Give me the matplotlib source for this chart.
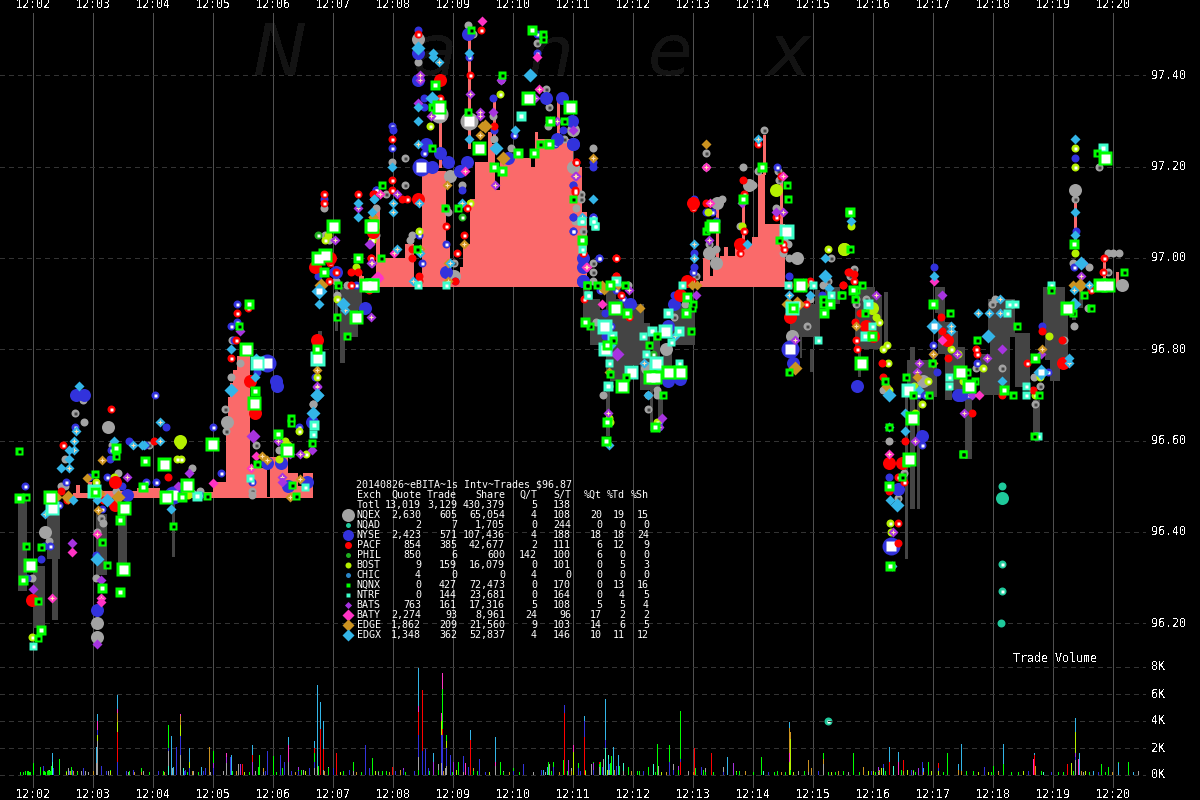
#! /usr/bin/env python
# Nanex style tick chart, 12:02 - 12:20
import numpy as np
import matplotlib
matplotlib.use("Agg")
import matplotlib.pyplot as plt

plt.rcParams['font.family'] = ['DejaVu Sans Mono']
plt.rcParams['text.antialiased'] = False

# axis labels
minute_labels = ["12:02","12:03","12:04","12:05","12:06","12:07","12:08","12:09","12:10",
                 "12:11","12:12","12:13","12:14","12:15","12:16","12:17","12:18","12:19","12:20"]
minute_secs = [0,60,120,180,240,300,360,420,480,540,600,660,720,780,840,900,960,1020,1080]
price_ticks = [97.40,97.20,97.00,96.80,96.60,96.40,96.20]
vol_ticks = [8,6,4,2,0]

# table
table_title = "20140826~eBITA~1s Intv~Trades $96.87"
table_head = ["Exch","Quote","Trade","Share","Q/T","S/T","%Qt","%Td","%Sh"]
table_rows = [
    ["Totl","13,019","3,129","430,379","5","138","","",""],
    ["NQEX","2,630","605","65,054","4","108","20","19","15"],
    ["NQAD","2","7","1,705","0","244","0","0","0"],
    ["NYSE","2,423","571","107,436","4","188","18","18","24"],
    ["PACF","854","385","42,677","2","111","6","12","9"],
    ["PHIL","850","6","600","142","100","6","0","0"],
    ["BOST","9","159","16,079","0","101","0","5","3"],
    ["CHIC","4","0","0","4","0","0","0","0"],
    ["NQNX","0","427","72,473","0","170","0","13","16"],
    ["NTRF","0","144","23,681","0","164","0","4","5"],
    ["BATS","763","161","17,316","5","108","5","5","4"],
    ["BATY","2,274","93","8,961","24","96","17","2","2"],
    ["EDGE","1,862","209","21,560","9","103","14","6","5"],
    ["EDGX","1,348","362","52,837","4","146","10","11","12"],
]

# shaded spread above the reference level (step series)
pink1_base = 96.474
pink1_t = [40,43,47,55,59,104,127,180,193,195,197,200,204,217,234,237,255,265,270,280]
pink1_p = [96.485,96.503,96.485,96.51,96.49,96.496,96.487,96.51,96.62,96.695,96.726,96.755,96.785,
           96.54,96.476,96.565,96.53,96.50,96.53,96.53]
pink2_base = 96.936
pink2_t = [328,331,343,347,359,372,381,389,413,417,427,430,437,442,455,459,462,467,498,502,505,540,549,554]
pink2_p = [96.96,96.95,97.11,97.0,97.0,97.03,96.94,97.19,97.03,96.96,96.98,97.03,97.13,97.21,97.277,
           97.25,97.15,97.22,97.20,97.277,97.26,97.20,97.10,97.10]
pink3_base = 96.936
pink3_t = [667,670,677,680,687,691,695,702,712,719,725,732,752]
pink3_p = [96.95,97.0,96.96,96.98,97.005,97.025,97.005,97.025,97.03,97.045,97.185,97.075,97.075]

# thin spikes of the same spread
spike_t = [436,407,461,525,684,710,731,748,1042,1071,1084,345,327]
spike_hi = [97.48,97.30,97.35,97.35,97.11,97.12,97.27,97.18,97.13,97.0,96.97,97.105,96.97]
spike_lo = [97.24,97.20,97.27,97.26,96.99,97.03,97.185,97.06,97.03,96.95,96.94,96.94,96.94]

# dark bars below the reference level
gray_t0 = [-15,0,14,19,25,63,85,139,307,312,325,285,302,550,557,567,573,573,583,577,607,617,620,625,630,639,
           757,777,782,792,767,822,825,840,851,874,872,877,884,902,905,912,917,925,932,947,955,957,982,1000,
           1010,1012,1017,1039,1046]
gray_t1 = [-6,12,19,25,27,74,94,142,312,325,329,289,305,557,567,573,577,583,611,592,617,620,627,630,639,662,
           787,780,787,807,769,842,828,849,855,904,875,882,887,907,912,919,925,932,939,967,982,977,997,1007,
           1032,1035,1027,1043,1050]
gray_hi = [96.474,96.325,96.45,96.45,96.45,96.44,96.44,96.474,96.936,96.936,96.936,96.84,96.93,96.936,96.91,96.886,
           96.71,96.93,96.90,96.91,96.858,96.777,96.84,96.695,96.80,96.90,96.90,96.80,96.93,96.936,96.90,96.936,
           96.80,96.92,96.926,96.777,96.695,96.805,96.69,96.936,96.936,96.86,96.84,96.805,96.73,96.79,96.91,
           96.827,96.835,96.69,96.936,96.90,96.777,96.91,96.93]
gray_lo = [96.27,96.19,96.34,96.207,96.34,96.306,96.31,96.345,96.77,96.827,96.886,96.81,96.84,96.864,96.81,96.79,
           96.61,96.755,96.766,96.73,96.71,96.62,96.71,96.65,96.744,96.81,96.827,96.75,96.82,96.90,96.78,96.80,
           96.74,96.80,96.80,96.695,96.34,96.45,96.45,96.88,96.79,96.69,96.71,96.69,96.56,96.70,96.827,
           96.71,96.717,96.61,96.835,96.777,96.73,96.864,96.89]

# watermark
mark_letters = ["N","a","n","e","x"]
mark_secs = [220,380,495,615,735]

# quote points per exchange: seconds after 12:02, price, size class
nqex_t = [42,51,75,32,50,85,28,64,83,32,12,16,-1,63,68,70,64,64,64,159,167,159,192,194,193,223,246,280,219,219,79,116,
          199,207,198,291,296,292,343,342,304,314,280,303,
          385,385,406,436,440,435,504,513,516,531,540,540,461,460,379,377,372,372,359,343,342,353,417,413,415,429,421,421,468,478,560,540,548,548,543,542,550,560,560,560,515,
          673,710,673,684,689,720,716,725,731,745,746,743,751,755,750,756,764,676,683,683,676,663,652,641,633,615,615,624,624,614,626,572,570,595,563,774,759,777,790,795,798,710,707,
          1042,1042,1066,1056,1075,1080,1086,1075,1089,1040,1055,1041,1031,1007,1002,1001,969,943,962,959,833,856,890,817,821,823,823,850,871,865]
nqex_p = [96.66,96.64,96.63,96.56,96.69,96.53,96.50,96.49,96.49,96.50,96.40,96.38,96.30,96.30,96.43,96.42,96.40,96.20,96.17,96.54,96.49,96.485,96.67,96.64,96.62,96.59,96.58,96.68,96.49,96.48,96.59,96.59,
          96.82,96.77,96.74,97.11,97.04,97.05,97.05,97.05,96.92,96.94,96.68,96.95,
          97.48,97.43,97.315,97.30,97.49,97.51,97.47,97.37,97.33,97.26,97.28,97.25,97.26,97.31,97.05,97.04,97.22,97.16,97.21,97.11,97.05,97.14,97.18,97.11,97.10,97.16,96.99,96.96,97.39,97.24,97.24,97.20,97.14,97.13,97.11,97.08,97.06,96.99,96.97,96.95,97.29,
          97.23,97.20,97.20,97.12,97.13,97.16,97.16,97.19,97.28,97.19,97.17,97.11,97.04,97.03,97.01,97.0,97.0,97.03,97.02,96.99,97.01,96.96,96.90,96.87,96.80,96.70,96.67,96.71,96.70,96.76,96.76,96.80,96.70,96.94,96.86,96.85,96.83,96.91,96.94,96.95,97.0,97.13,97.07,
          97.15,97.13,97.20,96.98,97.01,97.01,97.01,96.97,96.94,96.99,96.89,96.85,96.82,96.72,96.68,96.74,96.76,96.76,96.91,96.90,96.91,96.60,96.73,96.96,96.975,96.91,96.90,96.71,96.53,96.475]
nqex_k = [1,2,3,2,2,2,2,2,2,2,3,2,2,2,1,2,2,3,3,2,2,2,1,3,1,1,2,1,1,2,2,1,
          2,2,2,2,2,1,2,2,2,2,2,2,
          3,2,4,4,1,2,1,1,1,1,3,1,2,2,2,2,1,1,2,2,2,1,3,1,2,2,1,3,1,2,2,3,1,1,2,2,1,1,1,2,2,
          1,2,1,3,2,2,3,1,1,1,1,2,2,2,2,2,3,1,2,3,3,1,2,1,3,1,1,2,2,3,2,3,2,2,2,1,3,2,2,1,1,2,2,
          3,1,1,2,2,2,2,1,3,2,2,2,1,1,1,2,1,1,2,1,1,2,3,1,1,2,1,2,1,1]

nyse_t = [51,43,122,42,33,-8,77,78,96,133,112,56,74,113,123,89,26,17,11,8,63,-6,64,69,94,140,180,188,248,234,244,266,219,167,255,274,279,147,
          204,198,204,201,243,234,224,
          291,343,299,303,332,284,323,285,282,
          385,385,385,391,391,359,360,359,391,393,399,407,388,415,434,427,435,436,460,461,481,475,477,504,504,513,515,529,539,540,522,524,530,540,540,540,550,566,550,560,386,389,413,413,422,343,429,567,
          560,560,540,540,540,540,550,566,550,560,568,583,590,597,572,578,572,635,641,633,641,635,647,661,661,661,660,673,679,683,744,756,757,760,626,626,789,
          901,1042,1043,1041,824,900,900,904,889,889,1009,1015,925,928,935,944,885,892,865,858,856,856]
nyse_p = [96.70,96.70,96.70,96.63,96.51,96.50,96.56,96.58,96.60,96.63,96.59,96.52,96.52,96.51,96.51,96.50,96.46,96.37,96.37,96.34,96.35,96.30,96.23,96.45,96.48,96.48,96.63,96.53,96.55,96.55,96.72,96.63,96.51,96.48,96.50,96.51,96.64,96.50,
          96.90,96.85,96.86,96.82,96.73,96.77,96.75,
          97.13,97.15,96.97,96.97,96.89,96.80,96.94,96.96,96.74,
          97.50,97.45,97.39,97.35,97.33,97.29,97.28,97.24,97.23,97.25,97.20,97.23,97.20,97.21,97.21,97.19,97.49,97.44,97.35,97.28,97.27,97.22,97.22,97.49,97.45,97.35,97.35,97.35,97.30,97.25,97.25,97.26,97.28,97.06,97.09,97.16,96.98,97.0,96.95,97.09,97.05,96.99,97.03,96.97,96.95,97.15,97.15,96.93,
          97.21,97.20,97.25,97.09,97.06,97.16,97.0,97.0,96.95,97.09,96.93,96.93,96.91,96.90,96.88,96.85,96.83,96.85,96.90,96.84,96.92,96.73,96.735,97.13,97.01,96.98,96.97,97.10,97.10,97.08,97.2,96.96,96.80,96.77,96.64,96.63,96.92,
          96.98,97.22,97.06,96.98,96.72,96.81,96.79,96.75,96.61,96.59,96.85,96.75,96.70,96.70,96.70,96.77,96.70,96.70,96.495,96.37,96.375,96.52]
nyse_k = [3,3,1,1,1,1,2,1,2,2,2,2,1,1,1,2,1,1,2,2,2,2,3,1,3,4,1,1,3,3,3,1,1,1,3,3,3,2,
          1,1,1,2,3,4,2,
          2,1,1,3,3,1,1,2,2,
          2,3,3,2,2,1,2,1,1,3,3,3,4,3,3,3,3,1,2,2,1,3,1,1,1,3,1,3,3,3,1,3,2,1,1,2,3,1,3,1,1,1,1,3,2,1,2,1,
          2,2,3,2,1,2,3,1,3,1,1,1,1,3,2,1,2,3,3,1,2,3,3,2,2,2,1,2,1,2,1,2,4,3,1,2,2,
          2,2,2,1,3,1,1,2,3,1,2,1,3,3,1,1,1,1,3,4,2,2]

pacf_t = [78,30,121,135,34,70,82,82,-1,28,217,222,204,215,203,198,216,
          291,291,325,341,297,297,303,296,318,318,325,284,338,339,340,282,
          385,407,407,448,437,359,359,359,340,374,369,385,340,338,379,379,386,386,413,431,424,434,461,543,542,550,583,583,422,336,
          543,542,550,583,583,551,588,596,660,660,654,659,673,725,710,711,711,707,707,743,750,751,748,756,777,773,757,810,815,647,
          810,816,821,821,1071,1070,1058,908,833,840,822,823,827,824,849,850,909,914,915,943,944,939,872,1009,994,1030,1000,969,1029,
          856,869,865,871,865,865,859,856]
pacf_p = [96.67,96.59,96.60,96.52,96.47,96.47,96.51,96.46,96.25,96.49,96.73,96.66,96.88,96.89,96.82,96.78,96.73,
          97.14,97.12,97.14,97.14,97.0,96.99,96.97,96.95,96.97,96.94,96.97,96.82,97.0,97.065,97.058,96.98,
          97.49,97.39,97.35,97.50,97.40,97.26,97.17,97.15,97.14,97.13,97.13,97.13,97.06,97.0,97.02,97.0,96.96,96.95,97.07,97.05,97.01,97.11,97.29,97.21,97.15,97.01,97.0,96.96,96.95,96.93,
          97.21,97.145,97.01,97.0,96.96,96.91,96.92,96.87,97.12,97.11,96.95,96.95,97.12,97.25,97.17,97.14,97.06,97.03,97.01,97.09,97.03,97.02,97.18,96.94,96.95,96.90,96.87,96.94,96.97,96.92,
          96.94,96.97,96.965,96.95,97.0,96.97,96.93,96.87,96.85,96.83,96.86,96.82,96.88,96.80,96.77,96.74,96.84,96.82,96.78,96.80,96.79,96.66,96.60,96.84,96.77,96.77,96.71,96.70,96.82,
          96.55,96.55,96.52,96.51,96.42,96.375,96.325,96.49]
pacf_k = [1,1,2,2,1,2,3,3,3,2,3,3,1,1,1,1,2,
          1,1,1,2,3,1,1,1,2,1,2,3,1,3,3,3,
          1,3,1,1,1,1,1,1,2,1,2,3,3,1,2,2,2,1,1,1,1,1,2,1,1,1,1,1,2,1,
          1,1,1,1,2,1,1,1,3,1,3,1,2,1,2,1,1,3,1,1,1,1,2,1,1,1,3,2,2,3,
          2,2,2,1,1,1,1,2,3,3,2,1,2,1,2,2,2,3,2,1,1,2,2,2,1,3,2,2,2,
          3,3,1,1,1,2,2,2]

bost_t = [147,147,63,81,148,144,266,252,273,255,-1,155,246,295,292,323,339,304,284,467,437,397,339,386,
          743,709,795,811,576,576,577,675,624,1042,1042,1042,818,811,839,843,846,854,850,855,856,895,881,882,889,918,925,950,1016,930,1007,1002,857,858]
bost_p = [96.60,96.59,96.51,96.52,96.56,96.56,96.62,96.60,96.57,96.59,96.17,96.48,96.56,97.05,97.04,96.98,97.04,96.91,96.74,97.36,97.12,97.29,97.04,97.06,
          97.15,97.07,97.02,97.02,96.72,96.65,96.64,97.10,96.64,97.24,97.20,97.01,97.07,97.02,96.89,96.87,96.86,96.81,96.80,96.77,96.71,96.73,96.72,96.66,96.68,96.80,96.79,96.76,96.83,96.73,96.74,96.70,96.42,96.40]
bost_k = [3,2,1,2,1,1,1,2,1,2,1,2,2,2,1,2,1,1,1,1,1,1,1,1,
          3,2,1,3,2,2,1,2,1,1,1,2,2,3,3,2,1,1,1,1,1,1,2,1,1,1,1,1,2,1,1,1,1,1]

bats_t = [94,156,220,245,257,267,249,249,39,0,68,64,284,279,145,207,325,302,338,337,338,284,
          364,387,387,385,398,437,447,447,468,462,460,502,524,542,540,336,339,
          543,676,750,709,663,596,584,629,626,575,762,743,843,1048,1050,909,969,954,924,886,884,1008,931,882,939,860]
bats_p = [96.52,96.53,96.61,96.60,96.57,96.57,96.52,96.51,96.375,96.275,96.295,96.154,96.717,96.58,96.50,96.84,97.11,97.04,96.99,97.03,96.87,96.72,
          97.14,97.40,97.39,97.34,97.31,97.36,97.32,97.31,97.39,97.16,97.32,97.35,97.30,97.18,97.28,97.03,96.99,
          97.18,97.04,97.10,97.12,96.92,96.93,96.79,96.65,96.63,96.66,96.82,97.10,96.92,96.96,96.99,96.92,96.80,96.78,96.79,96.77,96.75,96.79,96.66,96.60,96.70,96.40]
bats_k = [1,2,3,1,1,1,1,2,2,2,2,2,1,2,2,2,1,1,1,2,1,1,
          1,1,1,2,1,1,1,1,2,1,2,1,1,1,2,1,1,
          1,1,1,2,2,1,3,2,1,1,1,2,1,1,1,2,2,1,1,1,1,2,1,1,2,1]

baty_t = [39,19,64,68,68,180,218,223,344,449,504,506,517,554,432,361,345,347,553,750,673,677,569,909,946,856,901]
baty_p = [96.355,96.255,96.395,96.255,96.246,96.507,96.54,96.566,96.957,97.52,97.44,97.37,97.30,96.98,97.19,97.01,96.96,97.14,96.98,97.18,97.20,97.12,96.90,96.82,96.70,96.57,96.95]
baty_k = [2,1,1,1,2,2,1,2,3,2,2,1,1,1,1,1,1,1,1,1,1,1,2,2,2,1,2]

edge_t = [69,35,24,54,85,67,65,234,229,267,257,288,340,284,452,449,447,414,431,387,340,470,415,415,
          673,560,569,585,607,659,664,762,764,755,770,571,576,823,900,900,1047,1009,1040,853,884]
edge_p = [96.558,96.477,96.477,96.518,96.477,96.485,96.448,96.558,96.566,96.516,96.477,96.94,97.09,96.755,97.29,97.29,97.27,97.16,97.03,97.02,97.09,97.22,96.99,96.95,
          97.25,97.22,96.94,96.94,96.89,96.94,96.94,96.76,96.90,96.90,96.94,96.93,96.75,96.85,96.77,96.79,96.94,96.80,96.94,96.72,96.74]
edge_k = [1,3,2,2,3,2,1,1,1,1,1,3,2,1,3,2,1,1,1,1,2,3,2,1,
          2,1,2,2,2,2,2,3,4,3,3,2,1,1,1,1,3,1,2,2,2]

edgx_t = [46,43,41,41,36,36,28,36,81,100,111,109,127,127,12,64,74,64,138,198,280,284,40,198,222,223,
          325,325,341,286,310,312,284,284,286,339,
          385,400,400,406,399,385,385,385,359,341,360,360,386,364,387,380,436,436,429,463,482,497,417,560,549,
          661,661,725,714,792,792,796,756,777,642,611,615,578,576,
          1042,1042,1042,1048,1041,1041,1056,818,901,901,918,918,856,872,872,856,945,956,967,967,955,969,1008,1036,1036,886,864,857,859]
edgx_p = [96.72,96.62,96.60,96.58,96.58,96.56,96.54,96.54,96.60,96.59,96.59,96.59,96.64,96.60,96.44,96.34,96.47,96.47,96.45,96.71,96.66,96.70,96.47,96.80,96.74,96.78,
          97.12,97.09,97.13,96.90,96.90,96.887,96.78,96.70,96.927,97.10,
          97.46,97.45,97.44,97.43,97.35,97.33,97.30,97.25,97.20,97.13,97.12,97.10,97.12,97.02,97.01,96.95,97.45,97.26,97.12,97.24,97.28,97.40,96.99,97.13,97.09,
          97.03,97.0,97.26,97.03,97.0,96.96,96.935,96.92,96.92,96.83,96.77,96.70,96.81,96.59,
          97.26,97.10,97.05,96.99,96.90,96.93,96.94,97.08,96.96,96.85,96.85,96.84,96.63,96.66,96.62,96.70,96.88,96.88,96.88,96.91,96.83,96.73,96.75,96.78,96.77,96.71,96.46,96.47,96.325]
edgx_k = [2,1,1,1,2,2,2,1,2,1,2,2,1,1,1,3,3,2,2,3,3,3,2,2,2,2,
          2,2,1,2,3,1,1,3,4,2,
          3,2,2,1,3,2,2,1,2,2,1,1,1,1,1,1,2,2,1,3,2,3,1,2,1,
          1,1,1,2,2,3,2,1,2,1,1,2,2,1,
          2,2,2,3,3,1,1,2,2,4,1,1,2,2,2,3,1,1,1,1,3,2,4,2,1,2,3,2,2]

nqnx_t = [-14,62,83,83,112,131,179,221,222,245,258,258,279,254,224,174,149,154,91,87,69,-7,8,74,-3,-10,5,8,5,87,90,69,140,-7,-14,259,263,17,133,110,62,
          216,206,213,300,292,285,325,291,305,333,339,304,314,323,339,284,
          499,510,510,438,469,402,495,406,399,435,446,485,501,516,537,517,531,399,461,469,349,338,348,333,339,384,412,549,554,425,507,
          729,754,755,710,816,680,673,676,746,550,540,554,564,577,592,582,594,552,557,580,574,616,624,622,617,635,647,653,660,659,654,658,630,589,593,577,574,573,622,767,790,790,797,791,808,756,760,
          817,817,829,809,820,823,822,832,1072,1064,900,917,839,828,852,944,984,1034,1040,1058,1051,1018,1002,971,980,1006,934,942,936,896,873,880,879,930,927,1041,1075,1067,1091,856,1001,899,
          876,856,869,873,857,930]
nqnx_p = [96.577,96.526,96.583,96.566,96.555,96.548,96.592,96.682,96.708,96.614,96.649,96.638,96.594,96.58,96.548,96.479,96.477,96.503,96.452,96.426,96.377,96.369,96.368,96.328,96.328,96.295,96.248,96.185,96.167,96.268,96.319,96.277,96.413,96.477,96.474,96.502,96.478,96.477,96.477,96.498,96.488,
          96.90,96.85,96.80,97.07,97.006,97.0,97.0,96.97,96.94,96.94,96.94,96.87,96.83,96.87,97.07,96.80,
          97.50,97.49,97.48,97.50,97.40,97.38,97.35,97.33,97.33,97.32,97.24,97.23,97.23,97.25,97.33,97.30,97.30,97.24,97.20,97.19,97.16,97.07,97.0,96.94,96.94,97.02,97.11,97.04,96.94,97.11,97.25,
          97.20,97.16,97.13,97.13,97.10,97.07,97.06,97.07,97.04,97.04,97.13,96.94,96.94,96.94,96.94,96.89,96.88,96.86,96.85,96.82,96.81,96.81,96.83,96.74,96.74,96.75,96.75,96.88,96.90,96.89,96.915,96.84,96.70,96.72,96.74,96.745,96.64,96.60,96.63,96.94,96.91,96.90,96.90,96.88,96.92,96.75,96.89,
          97.10,97.02,96.94,96.92,96.93,96.93,96.91,96.88,97.22,97.23,96.90,96.88,96.83,96.77,96.73,96.82,96.85,96.89,96.88,96.89,96.92,96.93,96.78,96.71,96.70,96.70,96.75,96.73,96.72,96.70,96.74,96.70,96.65,96.57,96.75,97.03,96.94,96.94,96.97,96.63,96.61,96.77,
          96.56,96.50,96.52,96.55,96.325,96.57]
nqnx_k = [1,1,2,1,2,3,3,3,2,2,1,1,1,3,1,1,2,3,3,2,1,1,1,1,3,2,1,2,1,2,3,2,1,1,2,1,1,3,3,2,2,
          2,1,3,3,3,3,2,2,1,2,3,1,1,3,3,2,
          2,1,1,1,1,2,3,3,1,1,3,2,2,2,3,2,1,1,2,2,1,3,1,3,2,1,1,2,1,1,1,
          2,1,1,2,1,3,1,2,1,1,1,1,1,2,1,3,2,2,1,1,2,1,1,3,3,3,3,2,1,1,2,1,1,3,1,1,2,2,2,3,1,1,2,2,1,1,2,
          2,1,1,1,2,1,1,1,3,1,2,1,2,3,1,1,1,3,1,1,1,1,2,2,1,1,1,1,3,1,1,1,3,1,3,2,3,3,1,1,1,1,
          3,2,1,1,2,1]

ntrf_t = [19,0,280,281,61,164,217,272,224,284,488,549,548,560,562,385,413,555,583,339,
          549,560,562,555,576,571,579,572,575,598,613,610,619,632,635,646,646,638,623,755,753,780,798,785,759,649,
          1070,1018,982,976,974,835,832,839,875,916,916,993,993,1005]
ntrf_p = [96.452,96.15,96.614,96.634,96.49,96.478,96.518,96.498,96.77,96.78,97.31,97.02,97.08,97.08,97.07,96.94,96.94,96.92,96.95,96.94,
          97.08,97.08,97.07,96.92,96.77,96.85,96.83,96.80,96.72,96.75,96.79,96.83,96.84,96.84,96.88,96.84,96.77,96.815,96.77,96.94,97.06,96.94,96.92,96.82,96.89,96.94,
          97.24,96.94,96.90,96.90,96.88,96.90,96.83,96.85,96.71,96.74,96.72,96.72,96.70,96.61]
ntrf_k = [3,1,1,2,3,2,1,1,3,4,2,1,1,1,1,1,1,1,2,3,
          1,1,1,1,1,4,2,3,2,3,1,1,2,3,2,2,1,1,3,1,4,1,1,1,3,1,
          2,1,1,1,1,2,2,1,3,1,1,1,1,1]

nqad_t = [969,969,969,969,968,795]
nqad_p = [96.50,96.475,96.33,96.27,96.20,95.986]
nqad_k = [2,3,1,1,2,1]

phil_t = [429,402,285,620]
phil_p = [97.09,97.38,97.05,96.79]
phil_k = [1,1,1,1]

chic_t = []
chic_p = []
chic_k = []

# trade volume, top of each coloured segment in thousands
nqex_vt = [64,63,135,147,193,255,281,284,290,385,408,413,16,35,48,52,55,75,95,110,139,160,177,190,205,222,230,270,295,320,345,405,412,430,462,470,500,512,516,538,
           558,566,570,576,590,625,640,655,672,690,765,775,790,815,845,880,965,1010,1042,1050,1100,1105]
nqex_vk = [2.5,0.9,1.8,1.5,0.9,1.0,0.5,0.6,0.4,1.3,0.9,0.7,0.4,0.5,0.3,0.3,0.2,0.3,0.2,0.3,0.5,0.3,0.2,0.3,0.8,0.3,0.2,0.4,0.6,0.3,0.2,0.8,0.5,0.2,0.7,0.3,0.2,0.2,0.8,0.5,
           0.8,0.6,1.2,0.4,0.3,0.7,0.8,0.3,0.5,0.6,0.3,0.2,0.8,0.2,0.2,0.2,0.3,0.2,1.1,0.2,0.2,0.3]
nyse_vt = [84,64,135,147,143,156,180,219,234,247,251,281,332,385,389,392,400,408,409,413,417,430,446,490,531,551,572,576,636,647,668,
           10,50,68,100,125,152,172,197,205,265,300,370,395,420,435,508,520,547,560,850,889,905,1042]
nyse_vk = [1.0,3.3,2.0,2.9,2.1,0.5,0.5,1.0,1.75,1.5,1.0,1.0,2.2,3.0,1.8,1.9,1.0,3.0,3.0,2.0,1.5,1.4,1.2,0.8,5.2,4.0,2.6,0.8,1.0,1.2,0.6,
           0.7,0.5,0.7,0.4,0.3,0.4,0.5,1.3,0.8,0.3,0.5,0.4,0.5,1.0,0.6,0.4,0.6,0.3,0.4,0.8,1.0,0.5,1.3]
pacf_vt = [84,219,281,287,290,303,359,385,389,409,437,209,531,551,566,647,661,678,856,870,905,1001,1034]
pacf_vk = [3.2,1.5,2.0,3.4,1.9,1.6,0.6,4.7,6.3,3.4,2.6,0.8,4.6,2.8,1.0,1.0,2.0,1.6,1.0,1.1,0.9,1.5,0.8]
bost_vt = [84,147,156,64,408,413,540,1042,1038,756,757,840,880,905,955]
bost_vk = [3.9,3.7,1.0,3.0,4.0,2.5,1.7,3.2,0.9,1.0,2.7,0.3,0.3,0.3,0.2]
bats_vt = [180,193,207,219,265,370,400,420,535,560,645,700,845,885,1042]
bats_vk = [0.9,1.3,0.8,1.0,0.6,0.5,1.0,1.0,1.1,0.9,0.7,0.9,0.6,0.5,1.6]
baty_vt = [64,84,147,255,385,409,193,408,432,462,540,756,865,1000,1045]
baty_vk = [4.0,4.9,4.5,2.25,5.1,7.55,1.6,4.6,0.9,1.0,2.2,1.6,1.0,1.2,1.2]
edge_vt = [37,40,60,84,93,108,147,176,230,281,367,440,756,757,775,790,830,870,925,1002]
edge_vk = [0.3,0.3,0.3,4.6,0.3,0.2,4.4,2.1,0.5,1.6,0.4,0.5,3.5,3.2,1.1,1.2,0.6,0.3,0.4,0.7]
edgx_vt = [19,64,63,84,138,140,156,168,198,219,255,281,284,287,290,385,400,437,462,510,514,551,572,575,580,585,624,636,694,756,856,865,
           890,925,928,970,1001,1042,1046,1060,1085,1100]
edgx_vk = [1.6,4.5,2.1,5.95,2.9,0.6,2.0,0.6,1.5,2.2,2.8,2.55,6.7,5.4,4.0,7.9,1.6,3.35,2.8,0.4,0.6,4.35,5.6,1.2,2.1,1.5,2.3,2.25,1.3,3.95,2.1,1.7,
           0.5,0.8,2.3,2.3,1.6,4.2,1.6,0.3,0.9,0.2]
nqnx_vt = [7,10,12,14,15,16,17,18,26,38,108,135,180,226,225,240,249,265,281,285,320,339,345,353,
           385,405,409,413,425,440,467,470,480,500,515,520,530,545,560,567,575,578,
           604,615,624,636,647,662,670,680,706,728,744,752,757,790,802,820,845,880,895,914,940,960,970,985,1025,1040,1068,1075,1085,1095]
nqnx_vk = [0.2,0.3,0.2,0.3,0.4,0.3,0.3,0.7,1.2,0.6,0.5,3.7,1.75,1.5,0.6,1.4,0.5,0.4,1.6,0.7,1.0,1.25,0.3,0.3,
           0.4,0.4,6.4,3.0,1.0,0.3,1.0,0.2,0.5,0.2,1.0,1.0,1.1,0.9,1.0,1.0,1.2,1.4,
           0.3,0.6,2.3,2.25,4.75,0.5,0.4,0.2,0.3,1.3,0.3,0.2,0.4,1.6,0.2,1.6,0.3,0.4,1.0,1.6,0.3,0.7,0.8,0.2,0.2,0.3,0.8,0.6,1.0,1.0]
ntrf_vt = [19,135,150,572,575,590,620,730,850,860,1010]
ntrf_vk = [1.0,0.7,0.5,2.0,1.5,0.9,0.8,0.3,0.5,0.7,0.2]

# the dense low bars along the bottom of the volume panel
low_green_t = [-13,-10,-8,-6,-5,-4,-3,0,7,11,33,44,77,96,116,130,154,165,199,216,243,268,295,310,328,349,372,396,419,444,470,486,518,534,552,566,577,586,595,606,622,645,672,703,720,741,771,795,810,826,842,852,868,882,910,933,958,978,1008,1030,1056,1072]
low_green_k = [.2,.2,.3,.3,.3,.2,.2,.9,.6,.3,.3,.2,.4,.3,.2,.3,.2,.2,.3,.2,.2,.4,.5,.3,.2,.3,.2,.3,.2,.3,.2,.2,.3,.3,.4,.8,.9,.7,.6,.3,.2,.4,.2,.2,.2,.2,.3,.2,.3,.2,.2,.3,.4,.2,.2,.3,.2,.2,.3,.2,.2,.2]
low_blue_t = [20,36,39,73,93,151,170,232,258,276,316,336,362,381,452,480,545,569,583,610,640,690,735,785,838,878,951,995,1018,1065]
low_blue_k = [.5,.3,.4,.3,.3,.3,.3,.3,.3,.5,.4,.5,.3,.3,.2,.3,.5,.6,.7,.3,.4,.2,.2,.3,.3,.4,.6,.3,.2,.2]
low_edge_t = [44,101,131,159,203,262,291,323,356,410,476,526,538,581,598,633,660,712,748,778,805,846,890,928,965,1048,1079]
low_edge_k = [.3,.2,.2,.3,.3,.2,.3,.2,.2,.3,.2,.2,.3,.4,.3,.2,.2,.3,.2,.5,.3,.4,.2,.3,.2,.3,.2]
low_bost_t = [33,77,154,211,272,307,342,423,456,552,574,628,672,703,760,798,835,848,874,898,945,990,1052]
low_bost_k = [.2,.3,.2,.2,.3,.2,.3,.4,.2,.3,.4,.2,.2,.3,.2,.2,.3,.5,.4,.3,.2,.3,.3]

# name, colour, marker, quote arrays, volume arrays
exchanges = [
    ("NQEX","#a3a3a3","o",nqex_t,nqex_p,nqex_k,nqex_vt,nqex_vk),
    ("NYSE","#3232dc","o",nyse_t,nyse_p,nyse_k,nyse_vt,nyse_vk),
    ("CHIC","#2a86c8","o",chic_t,chic_p,chic_k,[],[]),
    ("NQAD","#1fc99b","o",nqad_t,nqad_p,nqad_k,[],[]),
    ("PHIL","#1fb01f","o",phil_t,phil_p,phil_k,[],[]),
    ("BOST","#b4f000","o",bost_t,bost_p,bost_k,bost_vt,bost_vk),
    ("PACF","#ff0000","o",pacf_t,pacf_p,pacf_k,pacf_vt,pacf_vk),
    ("BATS","#a733e0","D",bats_t,bats_p,bats_k,bats_vt,bats_vk),
    ("BATY","#ff33c4","D",baty_t,baty_p,baty_k,baty_vt,baty_vk),
    ("EDGE","#cc9320","D",edge_t,edge_p,edge_k,edge_vt,edge_vk),
    ("EDGX","#33b5e8","D",edgx_t,edgx_p,edgx_k,edgx_vt,edgx_vk),
    ("NTRF","#3dffcb","s",ntrf_t,ntrf_p,ntrf_k,ntrf_vt,ntrf_vk),
    ("NQNX","#00ff00","s",nqnx_t,nqnx_p,nqnx_k,nqnx_vt,nqnx_vk),
]
colors = {e[0]: e[1] for e in exchanges}

PX = 0.72  # points per pixel at dpi 100
fig = plt.figure(figsize=(12, 8), dpi=100, facecolor='black')

# both axes fill the figure, limits line the grid up with the picture
ax = fig.add_axes([0, 0, 1, 1])
ax.set_xlim(-33, 1167)
ax.set_ylim(97 - 542 / 456.5, 97 + 258 / 456.5)
ax.axis('off')
vax = fig.add_axes([0, 0, 1, 1])
vax.set_xlim(-33, 1167)
vax.set_ylim(-25 / 13.5, 775 / 13.5)
vax.axis('off')
vax.patch.set_alpha(0)

for m in minute_secs:
    ax.axvline(m, ymin=13 / 800, ymax=787 / 800, color='#505050', lw=0.5, aa=False, zorder=1)
for p in price_ticks:
    ax.plot([-33, 1112], [p, p], color='#333333', lw=0.5, ls=(0, (7, 7)), aa=False, zorder=1)
    ax.text(1118, p, "%.2f" % p, color='white', fontsize=8.4, va='center', ha='left', zorder=6)
for k in vol_ticks:
    vax.plot([-33, 1112], [k, k], color='#333333', lw=0.5, ls=(0, (7, 7)), aa=False, zorder=1)
    vax.text(1118, k, "%dK" % k, color='white', fontsize=8.4, va='center', ha='left', zorder=6)
for m, lab in zip(minute_secs, minute_labels):
    ax.text(m, 97 + 253 / 456.5, lab, color='white', fontsize=8.4, ha='center', va='center', zorder=6)
    ax.text(m, 97 - 536 / 456.5, lab, color='white', fontsize=8.4, ha='center', va='center', zorder=6)

for l, s in zip(mark_letters, mark_secs):
    ax.text(s, 97.40, l, color='#131313', fontsize=52, style='italic', family='DejaVu Sans',
            ha='left', va='baseline', zorder=0)

# spread shading
gray_t0 = np.array(gray_t0)
gray_t1 = np.array(gray_t1)
gray_hi = np.array(gray_hi)
gray_lo = np.array(gray_lo)
ax.bar(gray_t0, gray_hi - gray_lo, width=gray_t1 - gray_t0, bottom=gray_lo, align='edge',
       color='#444444', lw=0, aa=False, zorder=2)
for tt, pp, base in [(pink1_t, pink1_p, pink1_base), (pink2_t, pink2_p, pink2_base), (pink3_t, pink3_p, pink3_base)]:
    ax.fill_between(tt, base, pp, step='post', color='#fa6a6a', lw=0, aa=False, zorder=2)
ax.vlines(spike_t, spike_lo, spike_hi, color='#fa6a6a', lw=0.9, aa=False, zorder=2)

# volume bars, tallest first so lower segments stay visible
all_t, all_k, all_c = [], [], []
for name, col, mk, t, p, k, vt, vk in exchanges:
    all_t += list(vt)
    all_k += list(vk)
    all_c += [col] * len(vt)
low = [(low_green_t, low_green_k, "NQNX"), (low_blue_t, low_blue_k, "NYSE"),
       (low_edge_t, low_edge_k, "EDGE"), (low_bost_t, low_bost_k, "BOST")]
for lt, lk, name in low:
    all_t += lt
    all_k += lk
    all_c += [colors[name]] * len(lt)
order = np.argsort(all_k)[::-1]
vax.bar(np.array(all_t)[order], np.array(all_k)[order], width=1,
        color=[all_c[i] for i in order], lw=0, aa=False, zorder=2)

# outer size and centre size in pixels for size classes 1-4
sizes = {"o": {1: (8, 3), 2: (8, 0), 3: (13, 0), 4: (18, 10)},
         "D": {1: (9, 4), 2: (9, 0), 3: (13, 0), 4: (16, 6)},
         "s": {1: (8, 3), 2: (10, 5), 3: (14, 9), 4: (15, 9)}}

for name, col, mk, t, p, k, vt, vk in exchanges:
    t = np.array(t)
    p = np.array(p)
    k = np.array(k)
    for c in [1, 2, 3, 4]:
        sel = k == c
        if not sel.any():
            continue
        outer, inner = sizes[mk][c]
        size = outer * PX
        if mk == "D":
            size = size / 1.41
        ax.plot(t[sel], p[sel], ls='none', marker=mk, ms=size, mfc=col, mec='none', aa=False, zorder=3)
        if inner == 0:
            continue
        if mk == "D" and c == 1:
            ax.plot(t[sel], p[sel], ls='none', marker='+', ms=inner * PX, mec='#ffe0b0', mew=0.8, aa=False, zorder=3)
            continue
        hole = 'white'
        if mk == "s" and c == 1 and name == "NQNX":
            hole = 'black'
        if name == "NQEX" and c == 1:
            hole = '#444444'
        ax.plot(t[sel], p[sel], ls='none', marker='s', ms=inner * PX, mfc=hole, mec='none', aa=False, zorder=3)

# table, placed in figure pixels
def put(x, y, s, color='white', ha='left'):
    fig.text(x / 1200, 1 - y / 800, s, color=color, fontsize=7.2, ha=ha, va='center', zorder=8, antialiased=True)

col_right = [None, 421, 457, 505, 537, 571, 602, 625, 649]
put(356.5, 485, table_title)
y = 495
put(356.5, y, table_head[0])
for c in range(1, 9):
    put(col_right[c], y, table_head[c], ha='right')
for row in table_rows:
    y += 10
    put(356.5, y, row[0])
    for c in range(1, 9):
        put(col_right[c], y, row[c], ha='right')

key_y = {"NQEX": 515, "NQAD": 525, "NYSE": 535, "PACF": 545, "PHIL": 555, "BOST": 565, "CHIC": 575,
         "NQNX": 585, "NTRF": 595, "BATS": 605, "BATY": 615, "EDGE": 625, "EDGX": 635}
key_size = {"NQEX": ("o", 13), "NQAD": ("o", 5), "NYSE": ("o", 11), "PACF": ("o", 7), "PHIL": ("o", 5), "BOST": ("o", 6),
            "CHIC": ("o", 5), "NQNX": ("s", 5), "NTRF": ("s", 5), "BATS": ("D", 5), "BATY": ("D", 8),
            "EDGE": ("D", 8), "EDGX": ("D", 8)}
kax = fig.add_axes([0, 0, 1, 1])
kax.set_xlim(0, 1200)
kax.set_ylim(800, 0)
kax.axis('off')
kax.patch.set_alpha(0)
for name in key_y:
    mk, sz = key_size[name]
    kax.plot([348], [key_y[name]], marker=mk, ms=sz * PX, mfc=colors[name], mec='none', aa=False)

fig.text(1013 / 1200, 1 - 659 / 800, "Trade Volume", color='white', fontsize=8.4, ha='left', va='center')

fig.savefig("out.png", dpi=100, facecolor='black')
